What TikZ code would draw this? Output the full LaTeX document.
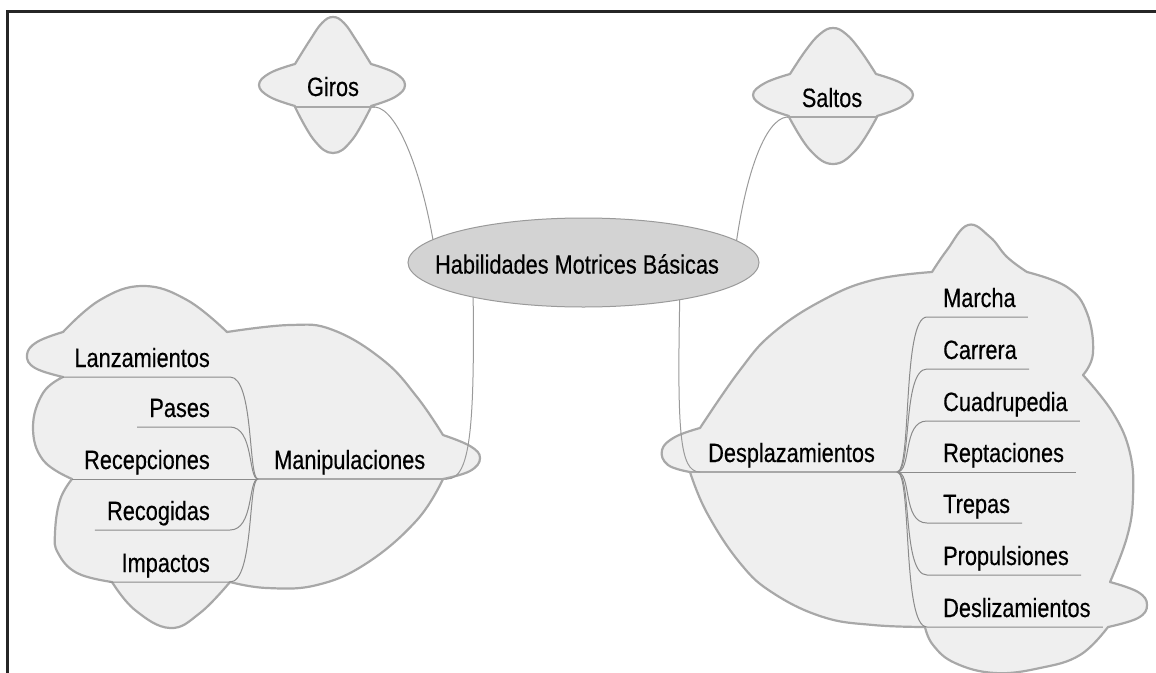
\documentclass[tikz,border=0pt]{standalone}
\usepackage{fontspec}
\setmainfont[FakeStretch=0.82,FakeBold=0.35]{Liberation Sans}
\usetikzlibrary{shapes.geometric}
\definecolor{cloudfill}{HTML}{EFEFEF}
\definecolor{cloudline}{HTML}{A8A8A8}
\definecolor{centerfill}{HTML}{D3D3D3}
\definecolor{linegray}{HTML}{9A9A9A}
\begin{document}
\begin{tikzpicture}[x=1pt,y=-1pt,
  cloud/.style={fill=cloudfill, draw=cloudline, line width=2.2pt, line join=round},
  conn/.style={draw=linegray, line width=1pt},
  uline/.style={draw=linegray!90!black, line width=1pt},
  topicline/.style={draw=cloudline, line width=1.6pt},
  lbl/.style={inner sep=0pt, font=\fontsize{26.5}{30}\selectfont, text=black},
  central/.style={ellipse, fill=centerfill, draw=linegray, line width=1pt,
    minimum width=351pt, minimum height=89pt, inner sep=0pt},
  sm/.style={smooth, tension=0.7}
]
\useasboundingbox (0,0) rectangle (1156,672);
% frame
\draw[line width=2.6pt, black!85] (1160,11.5) -- (7.5,11.5) -- (7.5,676);

% ---- clouds ----
% Giros
\path[cloud] plot[sm] coordinates {(295,106)(270,97)(259,85)(270,73)(295,64)}
 -- plot[sm] coordinates {(295,64)(310,40)(322,23)(333,17)(344,23)(356,40)(371,64)}
 -- plot[sm] coordinates {(371,64)(395,73)(405,85)(395,97)(371,106)}
 -- plot[sm] coordinates {(371,107)(352,140)(333,153)(314,140)(295,107)}
 -- cycle;
% Saltos
\path[cloud] plot[sm] coordinates {(789,116)(765,107)(753,95)(765,83)(790,74)}
 -- plot[sm] coordinates {(790,74)(806,50)(820,34)(833,28)(846,34)(860,50)(876,74)}
 -- plot[sm] coordinates {(876,74)(901,83)(913,95)(901,107)(877,116)}
 -- plot[sm] coordinates {(877,117)(856,150)(833,164)(810,150)(789,117)}
 -- cycle;
% Manipulaciones
\path[cloud] plot[sm] coordinates {(63,332)(100,300)(143,286)(187,300)(227,332)}
 -- plot[sm] coordinates {(227,332)(290,325)(333,330)(383,360)(417,397)(443,435)}
 -- plot[sm] coordinates {(443,435)(470,446)(480,458)(470,471)(443,479)}
 -- plot[sm] coordinates {(443,479)(417,520)(367,563)(317,585)(267,588)(230,582)}
 -- plot[sm] coordinates {(230,582)(200,613)(170,628)(135,610)(112,582)}
 -- plot[sm] coordinates {(112,582)(77,573)(58,553)(55,533)(60,500)(72,479)}
 -- plot[sm] coordinates {(72,479)(43,460)(33,427)(43,393)(63,377)}
 -- plot[sm] coordinates {(63,377)(35,368)(27,355)(37,342)(63,332)}
 -- cycle;
% Desplazamientos
\path[cloud] plot[sm] coordinates {(700,428)(740,370)(773,333)(823,300)(873,280)(932,272)}
 -- plot[sm] coordinates {(932,272)(947,250)(968,225)(990,237)(1007,257)(1027,272)}
 -- plot[sm] coordinates {(1027,272)(1067,287)(1087,313)(1093,353)(1083,375)}
 -- plot[sm] coordinates {(1083,375)(1113,413)(1130,453)(1133,497)(1127,537)(1110,582)}
 -- plot[sm] coordinates {(1110,582)(1138,592)(1147,605)(1138,618)(1108,627)}
 -- plot[sm] coordinates {(1108,627)(1080,655)(1040,668)(995,673)(955,663)(933,645)(925,627)}
 -- plot[sm] coordinates {(925,627)(873,625)(823,617)(773,593)(740,563)(707,513)(690,472)}
 -- plot[sm] coordinates {(690,472)(668,465)(662,450)(675,437)(700,428)}
 -- cycle;

% ---- text nodes ----
\node[lbl, anchor=base] (giros) at (333,96) {Giros};
\node[lbl, anchor=base] (saltos) at (832,107) {Saltos};
\node[lbl, anchor=base east] (lanz) at (210,367) {Lanzamientos};
\node[lbl, anchor=base east] (pases) at (210,417) {Pases};
\node[lbl, anchor=base east] (recep) at (210,469) {Recepciones};
\node[lbl, anchor=base east] (recog) at (210,520) {Recogidas};
\node[lbl, anchor=base east] (impac) at (210,572) {Impactos};
\node[lbl, anchor=base west] (manip) at (274,469) {Manipulaciones};
\node[lbl, anchor=base west] (desp) at (708,462) {Desplazamientos};
\node[lbl, anchor=base west] (marcha) at (943,307) {Marcha};
\node[lbl, anchor=base west] (carrera) at (943,359) {Carrera};
\node[lbl, anchor=base west] (cuadru) at (943,411) {Cuadrupedia};
\node[lbl, anchor=base west] (reptac) at (943,462) {Reptaciones};
\node[lbl, anchor=base west] (trepas) at (943,513) {Trepas};
\node[lbl, anchor=base west] (propul) at (943,565) {Propulsiones};
\node[lbl, anchor=base west] (desliz) at (943,617) {Deslizamientos};

% ---- coordinates ----
\coordinate (hubL) at (258,479);
\coordinate (hubR) at (897,472);
\coordinate (girosW) at (295,107);
\coordinate (girosE) at (375,107);
\coordinate (saltosW) at (787,117);
\coordinate (saltosE) at (877,117);
\coordinate (manipE) at (447,479);
\coordinate (despW) at (690,472);
\coordinate (despC) at (700,472);
\coordinate (lanzE) at (230,377);
\coordinate (pasesE) at (230,427);
\coordinate (recogE) at (230,530);
\coordinate (impacE) at (230,582);
\coordinate (marchaW) at (927,317);
\coordinate (carreraW) at (927,369);
\coordinate (cuadruW) at (927,421);
\coordinate (trepasW) at (927,523);
\coordinate (propulW) at (927,575);
\coordinate (deslizW) at (927,627);
\coordinate (habG) at (435,252);
\coordinate (habS) at (735,252);
\coordinate (habM) at (473,285);
\coordinate (habD) at (680,285);

% ---- underlines ----
\draw[topicline] (girosW) -- (girosE);
\draw[topicline] (saltosW) -- (saltosE);
\draw[topicline] (hubL) -- (manipE);
\draw[topicline] (despW) -- (hubR);

\draw[uline] ([shift={(-12,10)}]lanz.base west) -- (lanzE) .. controls +(24,0) and +(-10,0) .. (hubL);
\draw[uline] ([shift={(-12,10)}]pases.base west) -- (pasesE) .. controls +(24,0) and +(-10,0) .. (hubL);
\draw[uline] ([shift={(-12,10)}]recep.base west) -- (hubL);
\draw[uline] ([shift={(-12,10)}]recog.base west) -- (recogE) .. controls +(24,0) and +(-10,0) .. (hubL);
\draw[uline] ([shift={(-12,10)}]impac.base west) -- (impacE) .. controls +(24,0) and +(-10,0) .. (hubL);

\draw[uline] (hubR) .. controls +(15,0) and +(-25,0) .. (marchaW) -- ([shift={(12,10)}]marcha.base east);
\draw[uline] (hubR) .. controls +(15,0) and +(-25,0) .. (carreraW) -- ([shift={(12,10)}]carrera.base east);
\draw[uline] (hubR) .. controls +(15,0) and +(-25,0) .. (cuadruW) -- ([shift={(12,10)}]cuadru.base east);
\draw[uline] (hubR) -- ([shift={(12,10)}]reptac.base east);
\draw[uline] (hubR) .. controls +(15,0) and +(-25,0) .. (trepasW) -- ([shift={(12,10)}]trepas.base east);
\draw[uline] (hubR) .. controls +(15,0) and +(-25,0) .. (propulW) -- ([shift={(12,10)}]propul.base east);
\draw[uline] (hubR) .. controls +(15,0) and +(-25,0) .. (deslizW) -- ([shift={(12,10)}]desliz.base east);

% ---- main connectors ----
\draw[conn] (girosE) .. controls (398,109) and (423,175) .. (habG);
\draw[conn] (saltosW) .. controls (765,119) and (745,175) .. (habS);
\draw[conn] (habM) .. controls (475,430) and (470,479) .. (manipE);
\draw[conn] (habD) .. controls (677,430) and (679,472) .. (despC);

% ---- central topic ----
\node[central] (hab) at (583.5,262.5) {};
\node[lbl] (habtxt) at (577,264) {Habilidades Motrices Básicas};
\end{tikzpicture}
\end{document}
